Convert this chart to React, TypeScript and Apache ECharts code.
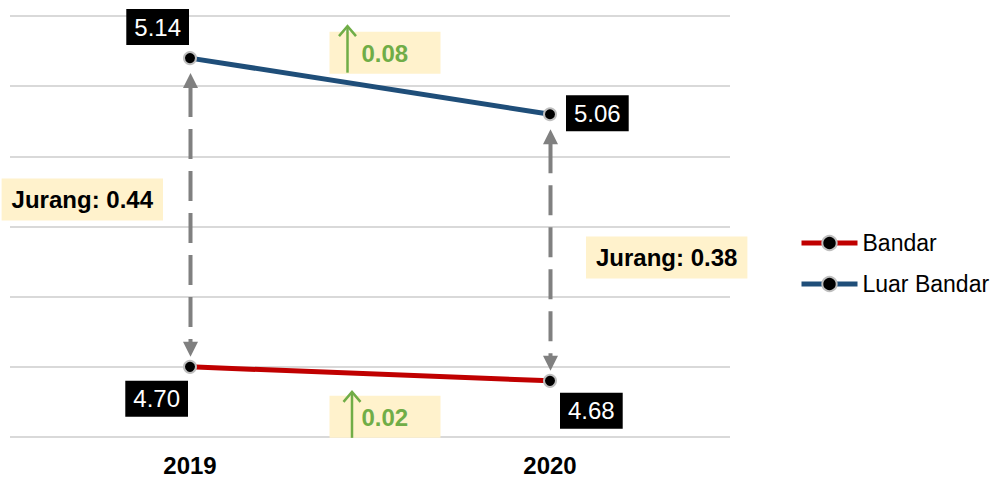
import React, { useEffect, useRef } from "react";
import * as echarts from "echarts";

const categories = ["2019", "2020"];
const seriesNames = ["Bandar", "Luar Bandar"];
const bandar = [4.7, 4.68];
const luarBandar = [5.14, 5.06];
const gapLabels = ["Jurang: 0.44", "Jurang: 0.38"];
const changeLabels = ["0.08", "0.02"];
const yMin = 4.6;
const yMax = 5.2;
const yInterval = 0.1;

const FONT = "Liberation Sans, Arial, sans-serif";
const GREEN = "#70AD47";
const YELLOW = "#FFF2CC";
const GRAY = "#808080";

const labelBase = {
  show: true,
  color: "#fff",
  backgroundColor: "#000",
  padding: [6, 8],
  fontSize: 24,
  lineHeight: 24,
  fontFamily: FONT,
  formatter: (p: any) => Number(p.value).toFixed(2),
};

const bandarLabels = [
  { position: [5, 21], align: "right", verticalAlign: "top" },
  { position: [17, 19], align: "left", verticalAlign: "top" },
];
const luarLabels = [
  { position: [6, -6], align: "right", verticalAlign: "bottom" },
  { position: [23, 6], align: "left", verticalAlign: "middle" },
];

export default function App() {
  const ref = useRef<HTMLDivElement>(null);
  useEffect(() => {
    const chart = echarts.init(ref.current!, null, { renderer: "svg" });
    const symbolStyle = { color: "#000", borderColor: "#BFBFBF", borderWidth: 2 };
    chart.setOption({
      animation: false,
      textStyle: { fontFamily: FONT },
      grid: { left: 10, right: 265, top: 16, bottom: 38, containLabel: false },
      legend: {
        orient: "vertical",
        left: 794,
        top: 225,
        itemWidth: 56,
        itemHeight: 18,
        itemGap: 15,
        lineStyle: { width: 5 },
        textStyle: { fontSize: 23, lineHeight: 26, color: "#000", fontFamily: FONT },
        data: seriesNames,
      },
      xAxis: {
        type: "category",
        data: categories,
        boundaryGap: true,
        axisLine: { show: false },
        axisTick: { show: false },
        axisLabel: { fontSize: 24, fontWeight: "bold", color: "#000", margin: 16, fontFamily: FONT },
      },
      yAxis: {
        type: "value",
        min: yMin,
        max: yMax,
        interval: yInterval,
        axisLabel: { show: false },
        axisLine: { show: false },
        axisTick: { show: false },
        splitLine: { show: true, lineStyle: { color: "#D9D9D9", width: 2 } },
      },
      series: [
        {
          name: seriesNames[0],
          type: "line",
          color: "#C00000",
          data: bandar.map((v, i) => ({ value: v, label: bandarLabels[i] })),
          symbol: "circle",
          symbolSize: 12,
          lineStyle: { color: "#C00000", width: 5 },
          itemStyle: symbolStyle,
          label: labelBase,
          z: 3,
        },
        {
          name: seriesNames[1],
          type: "line",
          color: "#1F4E79",
          data: luarBandar.map((v, i) => ({ value: v, label: luarLabels[i] })),
          symbol: "circle",
          symbolSize: 12,
          lineStyle: { color: "#1F4E79", width: 5 },
          itemStyle: symbolStyle,
          label: labelBase,
          z: 3,
        },
      ],
    });

    const px = (i: number, v: number) => chart.convertToPixel({ gridIndex: 0 }, [i, v]) as number[];
    const graphics: any[] = [];

    // Dashed double arrows (gap)
    categories.forEach((_, i) => {
      const top = px(i, luarBandar[i]);
      const bot = px(i, bandar[i]);
      const x = top[0] + 0.5;
      const tTip = top[1] + 15;
      const bTip = bot[1] - 10;
      const hh = 15;
      const hw = 7.5;
      graphics.push({
        type: "line",
        shape: { x1: x, y1: tTip + hh - 1, x2: x, y2: bTip - hh + 1 },
        style: { stroke: GRAY, lineWidth: 4, lineDash: [30, 12] },
        z: 1,
      });
      graphics.push({
        type: "polygon",
        shape: { points: [[x, tTip], [x - hw, tTip + hh], [x + hw, tTip + hh]] },
        style: { fill: GRAY },
        z: 1,
      });
      graphics.push({
        type: "polygon",
        shape: { points: [[x, bTip], [x - hw, bTip - hh], [x + hw, bTip - hh]] },
        style: { fill: GRAY },
        z: 1,
      });
    });

    // Gap labels
    {
      const t0 = px(0, luarBandar[0]);
      const b0 = px(0, bandar[0]);
      graphics.push({
        type: "text",
        x: t0[0] - 27,
        y: (t0[1] + b0[1]) / 2 - 13,
        style: {
          text: gapLabels[0],
          fill: "#000",
          font: `bold 24px ${FONT}`,
          lineHeight: 24,
          align: "right",
          verticalAlign: "middle",
          backgroundColor: YELLOW,
          padding: [9, 10],
        },
        z: 5,
      });
      const t1 = px(1, luarBandar[1]);
      const b1 = px(1, bandar[1]);
      graphics.push({
        type: "text",
        x: t1[0] + 36,
        y: (t1[1] + b1[1]) / 2 + 10,
        style: {
          text: gapLabels[1],
          fill: "#000",
          font: `bold 24px ${FONT}`,
          lineHeight: 24,
          align: "left",
          verticalAlign: "middle",
          backgroundColor: YELLOW,
          padding: [9, 10],
        },
        z: 5,
      });
    }

    // Change boxes with green arrows
    const changeBox = (label: string, left: number, top: number, arrowX: number, tipY: number, baseY: number) => {
      graphics.push({ type: "rect", shape: { x: left, y: top, width: 111, height: 42 }, style: { fill: YELLOW }, z: 4 });
      graphics.push({
        type: "line",
        shape: { x1: arrowX, y1: tipY + 1, x2: arrowX, y2: baseY },
        style: { stroke: GREEN, lineWidth: 2.5 },
        z: 5,
      });
      graphics.push({
        type: "polyline",
        shape: { points: [[arrowX - 8.5, tipY + 10], [arrowX, tipY], [arrowX + 8.5, tipY + 10]] },
        style: { stroke: GREEN, lineWidth: 2.5, fill: null },
        z: 5,
      });
      graphics.push({
        type: "text",
        x: left + 32,
        y: top + 22,
        style: { text: label, fill: GREEN, font: `bold 24px ${FONT}`, align: "left", verticalAlign: "middle" },
        z: 5,
      });
    };
    {
      const a = px(0, luarBandar[0]);
      const b = px(1, luarBandar[1]);
      const mx = (a[0] + b[0]) / 2;
      const my = (a[1] + b[1]) / 2;
      changeBox(changeLabels[0], mx - 40.5, my - 54.5, mx - 22.5, my - 60, my - 13.5);
      const c = px(0, bandar[0]);
      const d = px(1, bandar[1]);
      const mx2 = (c[0] + d[0]) / 2;
      const my2 = (c[1] + d[1]) / 2;
      changeBox(changeLabels[1], mx2 - 40.5, my2 + 22, mx2 - 18, my2 + 18, my2 + 64);
    }

    chart.setOption({ graphic: graphics });
    return () => chart.dispose();
  }, []);
  return <div ref={ref} style={{ position: "absolute", left: 0, top: 0, width: 995, height: 477 }} />;
}
